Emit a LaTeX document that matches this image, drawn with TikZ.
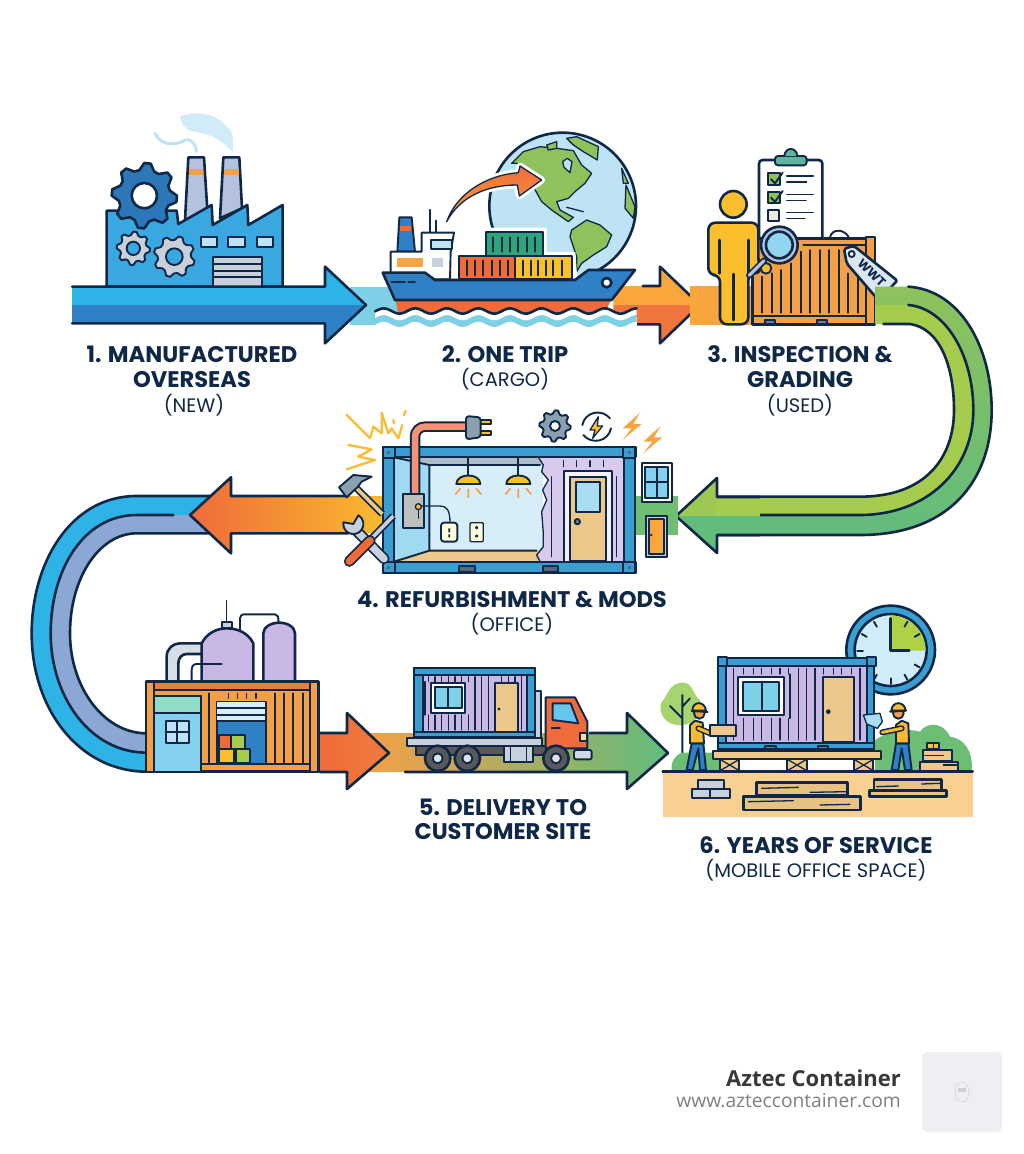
\documentclass[tikz,border=0pt]{standalone}
\usepackage{fontspec}
\newfontfamily\hd{Poppins}
\newfontfamily\ft{Open Sans}
\definecolor{navy}{HTML}{0F2847}
\definecolor{cy}{HTML}{2DB3E6}
\definecolor{bl}{HTML}{2F80C4}
\definecolor{lcy}{HTML}{7ED0E6}
\definecolor{lav}{HTML}{C9B8E6}
\definecolor{lavb}{HTML}{B4C2E0}
\definecolor{tan}{HTML}{ECC98A}
\definecolor{sand}{HTML}{F8D192}
\definecolor{org}{HTML}{F4A047}
\definecolor{lorg}{HTML}{F9A63B}
\definecolor{red}{HTML}{EF6B3A}
\definecolor{yel}{HTML}{FBBF2E}
\definecolor{grn}{HTML}{8FC25C}
\definecolor{ygrn}{HTML}{A6CC4E}
\definecolor{tgrn}{HTML}{62BC7C}
\definecolor{gry}{HTML}{C8D0DC}
\definecolor{sky}{HTML}{BDE3F5}
\definecolor{fac}{HTML}{3AA8E0}
\definecolor{wall}{HTML}{3A9FD0}
\definecolor{per}{HTML}{8BA8D4}
\definecolor{leaf}{HTML}{A8D46F}
\definecolor{teal2}{HTML}{2FA37C}
\definecolor{teal3}{HTML}{5FB59A}
\definecolor{mint}{HTML}{8FDCC8}
\definecolor{steel}{HTML}{8A9FB0}
\definecolor{logo}{HTML}{EEEEF3}
\tikzset{
 zm/.style 2 args={shift={(#1,#2)},x=0.33333pt,y=-0.33333pt},
 ol/.style={draw=navy,line width=2.6pt,line join=round,line cap=round},
 om/.style={draw=navy,line width=1.9pt,line join=round,line cap=round},
 ot/.style={draw=navy,line width=1.3pt,line join=round,line cap=round},
 title/.style={font=\hd\bfseries\fontsize{22.6}{24}\selectfont,text=navy,inner sep=0pt},
 sub/.style={font=\hd\fontsize{19.5}{22}\selectfont,text=navy,inner sep=0pt},
}
\newcommand\gearshape[7]{% x y R r n style phase
 \pgfmathsetmacro\gstep{90/#5}\pgfmathtruncatemacro\gsamp{4*#5+1}
 \path[#6] plot[domain=0:360,samples=\gsamp] ({#1+ifthenelse(mod(round(\x/\gstep),4)<2,#3,#4)*cos(\x+#7)},{#2+ifthenelse(mod(round(\x/\gstep),4)<2,#3,#4)*sin(\x+#7)}) -- cycle;}
\begin{document}
\begin{tikzpicture}[x=1pt,y=-1pt]
\useasboundingbox (0,0) rectangle (1024,1154);
\fill[white] (0,0) rectangle (1024,1154);

%% ===== bands behind the icons
\fill[lcy] (350,287) rectangle (420,325);
\fill[lorg] (690,287) rectangle (760,325);

%% ===== arrow 1 + factory (zoom 60,130)
\begin{scope}[zm={60}{130}]
 % smoke
 \draw[line width=3pt,color=sky,line cap=round] (285,10) .. controls (300,45) and (345,50) .. (375,30) .. controls (395,25) and (408,45) .. (410,65);
 \fill[sky!70!white] (360,-40) .. controls (400,-60) and (470,-50) .. (500,-10) .. controls (525,10) and (520,40) .. (518,65) .. controls (490,40) and (470,20) .. (430,10) .. controls (400,5) and (370,5) .. (360,-40);
 % chimneys
 \path[ol,fill=lavb] (385,82) -- (432,82) -- (442,240) -- (375,270) -- cycle;
 \fill[org] (387,118) rectangle (430,136);
 \path[ol,fill=lavb] (490,82) -- (538,82) -- (546,235) -- (480,265) -- cycle;
 \fill[org] (492,118) rectangle (536,136);
 % body
 \path[ol,fill=fac] (140,470) -- (140,242) -- (350,242) -- (355,282) -- (455,225) -- (458,285) -- (562,225) -- (565,285) -- (668,225) -- (668,470) -- cycle;
 % gears
 \gearshape{253}{197}{98}{78}{8}{ol,fill=bl!90!navy}{0}
 \path[ol,fill=white] (253,197) circle[radius=38];
 \gearshape{220}{355}{50}{40}{8}{om,fill=gry}{0}
 \path[om,fill=fac] (220,355) circle[radius=20];
 \gearshape{343}{380}{62}{50}{8}{om,fill=gry}{12}
 \path[om,fill=fac] (343,380) circle[radius=25];
 % windows
 \foreach \q in {422,505,590} \path[om,fill=sky] (\q,320) rectangle ++(50,31);
 % door
 \path[om,fill=gry] (460,382) rectangle (605,470);
 \foreach \q in {402,422,442} \draw[om] (460,\q) -- (605,\q);
 % arrow
 \fill[cy] (36,470) -- (795,470) -- (795,410) -- (918,525) -- (36,525) -- cycle;
 \fill[bl] (36,525) -- (918,525) -- (795,640) -- (795,580) -- (36,580) -- cycle;
 \draw[ol] (36,470) -- (795,470) -- (795,410) -- (918,525) -- (795,640) -- (795,580) -- (36,580);
\end{scope}

%% ===== ship & globe (zoom 360,130)
\begin{scope}[zm={360}{130}]
 % orange arrow 2
 \fill[lorg] (760,468) -- (900,468) -- (900,410) -- (1020,525) -- (760,525) -- cycle;
 \fill[red!80!org] (760,525) -- (1020,525) -- (900,640) -- (900,583) -- (760,583) -- cycle;
 \draw[ol] (848,468) -- (900,468) -- (900,410) -- (1020,525) -- (900,640) -- (900,583) -- (830,583);
 % globe
 \path[ol,fill=sky] (608,228) circle[radius=220];
 \path[ot,fill=grn] (455,100) -- (490,65) -- (540,50) -- (590,55) -- (640,62) -- (665,105) -- (695,130) -- (675,160) -- (645,185) -- (625,205) -- (590,215) -- (600,240) -- (640,262) -- (625,275) -- (575,240) -- (545,215) -- (520,170) -- (500,120) -- (470,100) -- cycle;
 \path[ot,fill=sky] (608,95) -- (622,85) -- (636,95) -- (630,128) -- (612,112) -- cycle;
 \path[ot,fill=grn] (635,300) -- (680,270) -- (720,285) -- (755,315) -- (740,350) -- (700,375) -- (665,400) -- (650,425) -- (650,380) -- (630,320) -- cycle;
 \path[ot,fill=grn] (620,25) -- (650,20) -- (715,50) -- (712,90) -- (670,65) -- (640,45) -- cycle;
 \path[ot,fill=grn] (560,45) -- (590,35) -- (590,55) -- (565,60) -- cycle;
 \path[ot,fill=grn] (798,165) -- (825,230) -- (820,265) -- (795,235) -- cycle;
 \path[ot,fill=grn] (785,115) -- (805,160) -- (790,160) -- cycle;
 \draw[ot] (620,232) -- (670,245);
 % curved arrow
 \path[draw=white,line width=7pt,line join=round] (260,275) .. controls (290,190) and (380,135) .. (475,128) -- (480,108) -- (545,150) -- (478,198) -- (472,165) .. controls (380,165) and (300,200) .. (260,275) -- cycle;
 \path[ot,left color=red,right color=lorg,shading angle=0] (260,275) .. controls (290,190) and (380,135) .. (475,128) -- (480,108) -- (545,150) -- (478,198) -- (472,165) .. controls (380,165) and (300,200) .. (260,275) -- cycle;
 % white halo of load
 \path[draw=white,fill=white,line width=8pt] (298,378) -- (378,378) -- (378,305) -- (548,305) -- (548,378) -- (635,378) -- (640,450) -- (298,450) -- cycle;
 % containers
 \path[om,fill=teal2] (378,305) rectangle (548,378);
 \foreach \q in {400,425,450,475,500,525} \draw[om] (\q,322) -- (\q,365);
 \path[om,fill=red] (298,378) rectangle (465,448);
 \foreach \q in {320,345,370,395,420,445} \draw[om] (\q,392) -- (\q,436);
 \path[om,fill=yel] (465,378) rectangle (635,448);
 \foreach \q in {490,512,535,558,580,605} \draw[om] (\q,392) -- (\q,436);
 % superstructure
 \draw[ol] (210,240) -- (210,308);
 \draw[om] (228,272) -- (228,308);
 \path[om,fill=bl] (118,262) -- (155,262) -- (165,365) -- (112,365) -- cycle;
 \fill[red] (120,288) rectangle (154,302);
 \path[om,fill=white] (185,308) -- (282,308) -- (272,365) -- (270,448) -- (92,448) -- (92,365) -- (185,365) -- cycle;
 \path[om,fill=sky] (212,330) rectangle (275,358);
 \fill[org!80!yel] (110,385) rectangle (190,412);
 \fill[gry] (215,385) rectangle (248,412);
 % hull
 \path[fill=red] (105,505) -- (755,505) -- (735,550) -- (115,550) -- cycle;
 \path[ol,fill=bl] (68,428) -- (195,428) -- (225,450) -- (645,450) -- (685,420) -- (825,420) -- (755,510) -- (105,510) -- cycle;
 \draw[om] (95,457) -- (135,457) (145,457) -- (165,457);
 \path[ol,fill=white] (740,458) circle[radius=14];
 % water
 \fill[white] (45,560) rectangle (830,600);
 \fill[lcy] plot[domain=45:830,samples=90] (\x,{560+8*sin(\x*3.8)}) -- plot[domain=830:45,samples=90] (\x,{583+8*sin(\x*3.8)}) -- cycle;
 \fill[white] plot[domain=45:830,samples=90] (\x,{543+8*sin(\x*3.8)}) -- plot[domain=830:45,samples=90] (\x,{563+8*sin(\x*3.8)}) -- cycle;
 \draw[ol] plot[domain=45:830,samples=90] (\x,{543+8*sin(\x*3.8)});
\end{scope}

%% ===== inspection (zoom 690,130)
\begin{scope}[zm={690}{130}]
 \fill[left color=lorg,right color=org] (0,468) rectangle (190,583);
 \path[ol,fill=white,rounded corners=3.5pt] (207,90) rectangle (397,330);
 \path[om,fill=teal3,rounded corners=3pt] (255,78) rectangle (350,106);
 \path[om,fill=teal3] (283,78) .. controls (285,50) and (320,50) .. (322,78);
 \path[om,fill=grn] (235,130) rectangle (270,165);
 \draw[om] (243,148) -- (255,160) -- (278,128);
 \path[om,fill=grn] (235,185) rectangle (270,220);
 \draw[om] (243,203) -- (255,215) -- (278,183);
 \path[om,fill=yellow!15!gray!20!white] (235,240) rectangle (268,273);
 \draw[ot] (290,138) -- (370,138) (290,156) -- (350,156) (290,193) -- (370,193) (290,211) -- (348,211) (290,247) -- (370,247) (290,265) -- (345,265);
 % container
 \draw[om] (420,322) .. controls (425,295) and (465,295) .. (478,325);
 \path[ol,fill=org] (188,325) rectangle (555,583);
 \foreach \q/\w in {215/440,245/430,272/420,302/400,332/365,360/360,389/360,417/360,446/360,475/430,503/440} \draw[om] (\q,\w) -- (\q,548);
 \draw[om] (340,345) -- (530,345) (190,557) -- (555,557);
 \path[om,fill=org] (528,322) rectangle (555,583);
 \path[om,fill=navy!60] (225,570) rectangle (255,583) (380,570) rectangle (410,583);
 % person
 \path[ol,fill=yel] (130,223) circle[radius=40];
 \path[ol,fill=yel,rounded corners=7pt] (55,278) -- (205,278) -- (205,400) -- (215,430) -- (175,430) -- (175,583) -- (90,583) -- (90,435) -- (55,435) -- cycle;
 \draw[ol] (88,330) -- (88,430) (175,330) -- (175,430) (130,432) -- (130,570);
 % hand + magnifier
 \path[om,fill=yel] (228,415) circle[radius=16];
 \draw[navy,line width=6.5pt,line cap=round] (222,392) -- (178,436);
 \draw[lavb,line width=3.2pt,line cap=round] (222,392) -- (178,436);
 \path[ol,fill=lavb] (268,345) circle[radius=55];
 \path[ol,fill=sky!70!cy] (268,345) circle[radius=40];
 % tag
 \path[ol,fill=sky!40!gry!60!white,rounded corners=2pt] (462,356) -- (492,348) -- (622,452) -- (565,510) -- (470,400) -- cycle;
 \path[om,fill=white] (485,372) circle[radius=9];
 \node[rotate=-44,font=\hd\bfseries\fontsize{12.5}{13}\selectfont,text=navy,inner sep=0pt] (tagtext) at (545,428) {WWT};
\end{scope}

%% ===== green U (zoom 860,270)
\begin{scope}[zm={860}{270}]
 \path[top color=grn,bottom color=tgrn] (45,50) -- (145,50) .. controls (300,60) and (395,230) .. (395,420) .. controls (395,630) and (270,795) .. (0,795) -- (-426,795) -- (-426,735) -- (0,735) .. controls (200,735) and (340,600) .. (340,420) .. controls (340,260) and (260,115) .. (145,105) -- (45,105) -- cycle;
 \fill[ygrn] (45,105) -- (145,105) .. controls (260,115) and (340,260) .. (340,420) .. controls (340,600) and (200,735) .. (0,735) -- (-426,735) -- (-426,680) -- (0,680) .. controls (200,680) and (282,560) .. (282,420) .. controls (282,290) and (240,175) .. (150,162) -- (45,162) -- cycle;
 \draw[ol] (145,50) .. controls (300,60) and (395,230) .. (395,420) .. controls (395,630) and (270,795) .. (0,795) -- (-426,795);
 \draw[ol] (145,105) .. controls (260,115) and (340,260) .. (340,420) .. controls (340,600) and (200,735) .. (0,735) -- (-426,735);
 \draw[ol] (70,162) -- (150,162) .. controls (240,175) and (282,290) .. (282,420) .. controls (282,560) and (200,680) .. (0,680) -- (-426,680);
\end{scope}
% arrow head 3 -> 4
\fill[tgrn!70!grn] (630,497) rectangle (678,535);
\begin{scope}
 \fill[ygrn!60!grn] (676,516) -- (717,478) -- (717,516) -- cycle;
 \fill[tgrn] (676,516) -- (717,553) -- (717,516) -- cycle;
 \fill[ygrn] (716,497) rectangle (760,516);
 \fill[tgrn] (716,516) rectangle (760,535);
 \draw[ol] (760,497) -- (717,497) -- (717,478) -- (676,516) -- (717,553) -- (717,535) -- (760,535);
\end{scope}

%% ===== blue C + orange arrow (zoom 20,470)
\begin{scope}[zm={20}{470}]
 \fill[cy] (570,78) -- (350,78) .. controls (150,78) and (35,280) .. (35,490) .. controls (35,720) and (180,905) .. (380,905) -- (380,848) .. controls (210,848) and (92,680) .. (92,490) .. controls (92,300) and (190,135) .. (350,135) -- (570,135) -- cycle;
 \fill[per] (570,135) -- (350,135) .. controls (190,135) and (92,300) .. (92,490) .. controls (92,680) and (210,848) .. (380,848) -- (380,790) .. controls (250,790) and (150,650) .. (150,490) .. controls (150,320) and (240,190) .. (350,190) -- (570,190) -- cycle;
 \draw[ol] (570,78) -- (350,78) .. controls (150,78) and (35,280) .. (35,490) .. controls (35,720) and (180,905) .. (380,905);
 \draw[ol] (460,135) -- (350,135) .. controls (190,135) and (92,300) .. (92,490) .. controls (92,680) and (210,848) .. (380,848);
 \draw[ol] (570,190) -- (350,190) .. controls (240,190) and (150,320) .. (150,490) .. controls (150,650) and (250,790) .. (380,790);
 \path[left color=red,right color=yel] (510,135) -- (633,22) -- (633,78) -- (1125,78) -- (1125,190) -- (633,190) -- (633,250) -- cycle;
 \draw[ol] (985,78) -- (633,78) -- (633,22) -- (510,135) -- (633,250) -- (633,190) -- (985,190);
\end{scope}

%% ===== arrow 5/6 band, behind the truck
\path[left color=org,middle color=org!40!ygrn,right color=tgrn] (368,733) -- (627,733) -- (627,713) -- (668,753) -- (627,789) -- (627,772) -- (368,772) -- cycle;
\draw[ol] (590,733) -- (627,733) -- (627,713) -- (668,753) -- (627,789) -- (627,772) -- (405,772);
\path[left color=red,right color=red!70!org] (320,733) -- (347,733) -- (347,713) -- (389,753) -- (347,789) -- (347,772) -- (320,772) -- cycle;
\draw[ol] (320,733) -- (347,733) -- (347,713) -- (389,753) -- (347,789) -- (347,772) -- (320,772);

%% ===== refinery container (zoom 20,470)
\begin{scope}[zm={20}{470}]
 \path[ol,fill=gry!70!white] (440,640) -- (440,560) .. controls (440,535) and (460,520) .. (480,520) -- (548,520) -- (548,552) -- (500,552) .. controls (485,552) and (475,565) .. (475,580) -- (475,640) -- cycle;
 \draw[om] (515,640) -- (515,600) .. controls (515,590) and (520,582) .. (530,582) -- (605,582);
 \draw[ot] (620,392) -- (620,455);
 \draw[om] (660,480) -- (660,445) .. controls (660,437) and (665,433) .. (675,433) -- (765,433) .. controls (772,433) and (777,440) .. (775,458);
 \path[om,fill=gry] (605,455) rectangle (635,475);
 \path[ol,fill=lav] (545,640) -- (545,520) .. controls (560,490) and (590,475) .. (620,475) .. controls (655,475) and (685,490) .. (700,520) -- (700,640) -- cycle;
 \draw[om] (545,582) -- (605,582);
 \path[ol,fill=lav] (730,640) -- (730,490) .. controls (730,470) and (755,458) .. (778,458) .. controls (800,458) and (825,470) .. (825,490) -- (825,640) -- cycle;
 \path[ol,fill=org] (378,635) rectangle (895,905);
 \path[om,fill=red!70!org] (378,635) rectangle (895,660);
 \path[om,fill=org] (378,635) rectangle (403,905);
 \path[om,fill=org] (870,635) rectangle (895,905);
 \foreach \q in {568,765,793,820,850} \draw[om] (\q,670) -- (\q,880);
 \foreach \q in {625,653,680,708} \draw[ot] (\q,670) -- (\q,685);
 \path[om,fill=sky!60!cy] (403,678) rectangle (543,905);
 \path[om,fill=mint] (403,678) rectangle (543,728);
 \path[om,fill=sky] (437,752) rectangle (508,818);
 \draw[om] (472,752) -- (472,818) (437,785) -- (508,785);
 \path[om,fill=bl] (590,695) rectangle (738,882);
 \path[fill=sky!60!white] (592,697) rectangle (736,752);
 \draw[om] (590,715) -- (738,715) (590,735) -- (738,735) (590,752) -- (738,752);
 \path[om,fill=red] (597,795) rectangle (633,838);
 \path[om,fill=ygrn] (633,795) rectangle (675,838);
 \path[om,fill=yel] (597,838) rectangle (643,880);
 \path[om,fill=ygrn] (647,838) rectangle (690,880);
 \draw[om] (543,882) -- (870,882);
\end{scope}

%% ===== workshop (zoom 320,400)
\begin{scope}[zm={320}{400}]
 \fill[tgrn!70!grn] (945,288) rectangle (1075,405);
 % interior
 \path[fill=sky!80!cy] (222,172) -- (328,195) -- (328,452) -- (222,485) -- cycle;
 \path[fill=sky!60!white] (328,195) rectangle (670,452);
 \path[fill=steel!70!white] (222,172) -- (655,172) -- (672,195) -- (328,195) -- cycle;
 \path[fill=tan] (222,485) -- (328,452) -- (655,452) -- (655,485) -- cycle;
 \draw[om] (222,172) -- (328,195) -- (660,195) (328,195) -- (328,452) -- (650,452) (328,452) -- (222,485);
 % exterior wall
 \path[fill=lav!75!white] (655,172) -- (670,195) -- (665,215) -- (685,240) -- (668,270) -- (680,300) -- (665,335) -- (670,400) -- (670,440) -- (650,465) -- (660,485) -- (913,485) -- (913,172) -- cycle;
 \draw[ot] (655,172) -- (670,195) -- (665,215) -- (685,240) -- (668,270) -- (680,300) -- (665,335) -- (670,400) -- (670,440) -- (650,465) -- (660,485);
 \foreach \q in {730,770,810,850} \draw[ot] (\q,182) -- (\q,200);
 \foreach \q in {695,890} \draw[ot] (\q,230) -- (\q,470);
 % door
 \path[om,fill=lav!20!white] (733,212) rectangle (875,485);
 \path[om,fill=tan] (750,230) rectangle (858,483);
 \path[om,fill=sky!70!cy!80!white] (768,247) rectangle (840,335);
 \path[om,fill=gray] (772,365) circle[radius=8];
 % frame
 \path[om,fill=wall] (188,172) rectangle (222,490);
 \path[om,fill=wall] (913,172) rectangle (945,490);
 \path[om,fill=wall] (188,140) rectangle (948,172);
 \path[om,fill=wall] (188,485) rectangle (948,518);
 \path[om,fill=navy!70] (418,498) rectangle (465,515) (668,498) rectangle (715,515);
 \foreach \p/\q in {188/140,910/140,188/485,910/485} {\path[om,fill=wall] (\p,\q) rectangle ++(36,33); \fill[navy!70] (\p+13,\q+12) rectangle ++(10,9);}
 % lamps
 \foreach \q in {445,595}{
  \draw[om] (\q,172) -- (\q,225);
  \path[om,fill=yel] (\q-36,252) .. controls (\q-36,218) and (\q+36,218) .. (\q+36,252) -- cycle;
  \draw[line width=1.7pt,color=org,line cap=round] (\q,268) -- (\q,292) (\q-24,266) -- (\q-38,282) (\q+24,266) -- (\q+38,282);
 }
 % cable + plug
 \draw[navy,line width=10.5pt,line cap=butt,rounded corners=10pt] (285,282) -- (285,80) -- (440,80);
 \draw[red!55!pink,line width=6.5pt,line cap=butt,rounded corners=10pt] (285,282) -- (285,80) -- (442,80);
 \draw[om,fill=yel] (478,60) rectangle (512,72) (478,94) rectangle (512,106);
 \path[om,fill=steel,rounded corners=3pt] (438,48) -- (482,52) -- (482,112) -- (438,118) -- cycle;
 % junction box + outlets
 \path[om,fill=gray!50!white] (250,282) rectangle (312,385);
 \draw[ot] (295,318) -- (360,318) .. controls (380,318) and (390,330) .. (390,368);
 \path[ot,fill=yel] (295,320) circle[radius=9];
 \draw[ot] (295,328) -- (295,355);
 \path[om,fill=yellow!15!white,rounded corners=3pt] (363,368) rectangle (412,425);
 \path[ot,fill=yellow!15!white,rounded corners=1pt] (450,368) rectangle (490,425);
 \fill[navy] (385,385) rectangle (390,397) (385,403) rectangle (390,412);
 \path[ot,fill=navy] (470,383) circle[radius=3] (470,408) circle[radius=3];
 % sparks
 \draw[line width=2.3pt,color=yel!90!org,line join=round,line cap=round] (80,45) -- (150,115) -- (160,80) -- (185,100) -- (185,38) -- (205,100) -- (215,85) -- (235,115) -- (247,75) (252,45) -- (257,32) (85,135) -- (155,148) -- (115,170) -- (165,180) -- (80,208) (220,60) -- (222,70);
 % hammer
 \draw[navy,line width=7pt] (110,265) -- (187,342);
 \draw[tan,line width=3.6pt] (110,265) -- (187,342);
 \path[om,fill=steel] (57,262) -- (100,225) -- (155,230) -- (125,245) -- (112,262) -- (80,292) -- cycle;
 % wrench + driver
 \draw[navy,line width=11pt,line cap=round] (112,395) -- (192,476);
 \draw[gry,line width=7.5pt,line cap=round] (112,395) -- (192,476);
 \path[om,fill=gry] plot[domain=-60:190,samples=24] ({100+30*cos(\x)},{372+30*sin(\x)}) -- (100,372) -- cycle;
 \draw[navy,line width=7pt] (220,348) -- (148,422);
 \draw[gry,line width=3.6pt] (220,348) -- (148,422);
 \draw[navy,line width=11pt,line cap=round] (150,422) -- (88,484);
 \draw[red,line width=7.5pt,line cap=round] (150,422) -- (88,484);
 % icons
 \gearshape{705}{78}{47}{37}{8}{om,fill=steel}{0}
 \path[om,fill=white] (705,78) circle[radius=15];
 \draw[om] (870,55) .. controls (845,25) and (795,35) .. (787,75);
 \draw[om] (790,105) .. controls (815,135) and (865,125) .. (873,85);
 \path[ot,fill=yel] (835,50) -- (810,90) -- (825,90) -- (818,115) -- (848,78) -- (832,78) -- cycle;
 \foreach \a/\b in {0/0,62/40} \path[fill=org!80!yel,shift={(\a*0.333pt,-\b*0.333pt)}] (960,38) -- (908,85) -- (935,85) -- (908,120) -- (965,72) -- (940,72) -- cycle;
 % loose window and door
 \path[om,fill=white] (965,190) rectangle (1055,305);
 \path[om,fill=sky!60!cy] (975,202) rectangle (1045,295);
 \draw[om] (1010,202) -- (1010,295) (975,245) -- (1045,245);
 \path[om,fill=gry] (978,348) rectangle (1042,472);
 \path[om,fill=lorg] (988,358) rectangle (1032,462);
 \fill[navy] (994,405) circle[radius=4];
\end{scope}

%% ===== truck (zoom 400,640)
\begin{scope}[zm={400}{640}]
 \path[om,fill=gry] (405,152) rectangle (422,295);
 \path[fill=lav] (65,105) rectangle (380,275);
 \foreach \q in {85,105,125,145,165,185,205,225,245,265,305,325,345,365} \draw[ot] (\q,110) -- (\q,125) (\q,225) -- (\q,270);
 \foreach \q in {75,225,245,265,365} \draw[ot] (\q,125) -- (\q,225);
 \path[om,fill=white] (92,130) rectangle (195,218);
 \path[om,fill=lcy] (105,142) rectangle (185,205);
 \draw[om] (145,142) -- (145,205);
 \path[om,fill=tan] (285,130) rectangle (355,275);
 \fill[navy] (297,207) circle[radius=5];
 \path[om,fill=wall] (42,85) rectangle (68,295);
 \path[om,fill=wall] (380,85) rectangle (405,295);
 \path[om,fill=wall] (42,85) rectangle (405,105);
 \path[om,fill=wall] (42,275) rectangle (405,292);
 \path[om,fill=gray!70!black] (48,317) rectangle (440,345);
 \path[om,fill=gry] (20,295) rectangle (425,317);
 \path[om,fill=red] (437,172) -- (525,172) -- (562,245) -- (562,325) -- (437,325) -- cycle;
 \path[om,fill=sky!40!cy] (458,190) -- (512,190) -- (535,250) -- (458,240) -- cycle;
 \draw[om] (455,265) -- (480,265);
 \path[om,fill=yel!50!white] (540,280) rectangle (560,302);
 \path[om,fill=gry] (312,318) rectangle (400,365);
 \draw[ot] (332,320) -- (332,363) (380,320) -- (380,363);
 \path[om,fill=gry!80!white,rounded corners=2pt] (522,330) rectangle (575,358);
 \foreach \q in {113,202,468}{\path[ol,fill=gray!70!black] (\q,355) circle[radius=38]; \path[om,fill=gry!60!white] (\q,355) circle[radius=15];}
\end{scope}

%% ===== site (zoom 650,600)
\begin{scope}[zm={650}{600}]
 % clock
 \path[ol,fill=wall] (722,150) circle[radius=133];
 \path[ol,fill=sky!70!white] (722,150) circle[radius=108];
 \fill[ygrn!90!yellow] (722,152) -- plot[domain=-90:0,samples=24] ({722+105*cos(\x)},{152+105*sin(\x)}) -- cycle;
 \foreach \a in {-120,-150,-180,120,150,90,60,30,-60,-30} \draw[om] ({722+83*cos(\a)},{152+83*sin(\a)}) -- ({722+100*cos(\a)},{152+100*sin(\a)});
 \draw[ol] (722,55) -- (722,152) -- (778,152);
 % vegetation
 \fill[leaf] (95,248) .. controls (130,245) and (130,290) .. (150,300) .. controls (165,340) and (130,375) .. (95,375) .. controls (50,380) and (20,340) .. (35,305) .. controls (50,295) and (55,250) .. (95,248) -- cycle;
 \draw[om] (97,285) -- (97,460) (60,318) -- (97,355) (120,295) -- (97,320);
 \fill[tgrn!85!ygrn] (65,512) .. controls (60,480) and (85,455) .. (105,458) -- (210,458) -- (210,512) -- cycle;
 \fill[tgrn!85!ygrn] (675,512) -- (675,420) .. controls (720,390) and (780,385) .. (810,395) .. controls (830,365) and (880,365) .. (900,410) .. controls (940,415) and (970,450) .. (965,512) -- cycle;
 % ground
 \fill[sand] (38,515) rectangle (968,652);
 % building
 \path[fill=lav] (228,198) rectangle (650,428);
 \foreach \q in {250,280,310,335,365,390,415,445,470,495,520,550,575,605,630} \draw[ot] (\q,205) -- (\q,222) (\q,355) -- (\q,420);
 \foreach \q in {250,420,445,470,495,630} \draw[ot] (\q,222) -- (\q,355);
 \path[om,fill=white] (265,232) rectangle (403,345);
 \path[om,fill=lcy] (280,245) rectangle (388,332);
 \draw[om] (335,245) -- (335,332);
 \path[om,fill=tan] (518,232) rectangle (612,425);
 \fill[navy] (535,335) circle[radius=7];
 \path[om,fill=wall] (205,175) rectangle (228,450);
 \path[om,fill=wall] (650,175) rectangle (672,450);
 \path[om,fill=wall] (205,175) rectangle (675,198);
 \path[om,fill=wall] (205,428) rectangle (672,448);
 \path[om,fill=wall] (205,172) rectangle (232,198);
 \path[om,fill=wall] (650,172) rectangle (677,198);
 \path[om,fill=navy!60] (345,437) rectangle (378,448) (503,437) rectangle (535,448);
 % platform
 \path[om,fill=tan] (188,452) rectangle (692,478);
 \foreach \q in {210,412,612} {\path[om,fill=tan] (\q,478) rectangle ++(58,34); \draw[ot] (\q,478) -- ++(58,34) (\q+58,478) -- ++(-58,34);}
 \draw[ol] (38,515) -- (968,515);
 % left worker
 \path[om,fill=bl] (125,430) -- (110,510) -- (128,510) -- (145,445) -- (150,510) -- (168,510) -- (160,430) -- cycle;
 \path[om,fill=yel!80!org] (120,430) -- (120,375) -- (135,362) -- (158,368) -- (162,430) -- cycle;
 \draw[navy,line width=6pt,line cap=round] (145,385) -- (188,403);
 \draw[yel!80!org,line width=3pt,line cap=round] (145,385) -- (188,403);
 \path[om,fill=org] (148,340) circle[radius=16];
 \path[om,fill=yel] (127,332) .. controls (127,302) and (165,302) .. (168,332) -- cycle;
 \draw[om] (125,333) -- (173,336);
 \path[om,fill=tan] (180,375) rectangle (258,408);
 % right worker
 \path[om,fill=bl] (738,430) -- (725,510) -- (745,510) -- (755,445) -- (765,510) -- (785,510) -- (775,430) -- cycle;
 \path[om,fill=yel!80!org] (738,430) -- (738,375) -- (755,362) -- (775,370) -- (777,430) -- cycle;
 \draw[navy,line width=6pt,line cap=round] (755,385) -- (697,397);
 \draw[yel!80!org,line width=3pt,line cap=round] (755,385) -- (697,397);
 \path[om,fill=org] (745,340) circle[radius=16];
 \path[om,fill=yel] (724,332) .. controls (726,302) and (764,302) .. (767,332) -- cycle;
 \draw[om] (720,335) -- (768,332);
 \path[ot,fill=sky!60!cy!70!white] (640,345) -- (690,340) -- (697,365) -- (682,385) -- (650,372) -- cycle;
 % stacks
 \path[om,fill=tan] (810,485) rectangle (925,512);
 \path[om,fill=tan] (820,450) rectangle (905,482);
 \path[om,fill=yel] (830,428) rectangle (868,448);
 \draw[ot] (850,428) -- (850,448) (825,467) -- (880,467) (880,495) -- (920,495);
 % bricks
 \path[om,fill=gry] (145,540) rectangle (222,566);
 \path[om,fill=gry] (125,568) rectangle (180,595);
 \path[om,fill=gry] (180,568) rectangle (240,595);
 % planks
 \path[ol,fill=tan!90!brown] (320,548) rectangle (592,587);
 \path[ol,fill=tan!90!brown] (280,590) rectangle (632,630);
 \path[ol,fill=tan!90!brown] (672,538) rectangle (875,570);
 \path[ol,fill=tan!90!brown] (658,572) rectangle (890,590);
 \draw[ot] (335,565) -- (445,562) (480,577) -- (590,575) (295,605) -- (430,602) (510,615) -- (600,613) (680,560) -- (745,558) (815,552) -- (870,550);
\end{scope}

%% ===== labels
\node[title] (a1) at (192,354) {1. MANUFACTURED};
\node[title] (a2) at (192,380) {OVERSEAS};
\node[sub]   (a3) at (194,405) {(NEW)};
\node[title] (b1) at (505,354) {2. ONE TRIP};
\node[sub]   (b2) at (505,379) {(CARGO)};
\node[title] (c1) at (800,354) {3. INSPECTION \&};
\node[title] (c2) at (800,380) {GRADING};
\node[sub]   (c3) at (800,405) {(USED)};
\node[title] (d1) at (512,599) {4. REFURBISHMENT \& MODS};
\node[sub]   (d2) at (512,624) {(OFFICE)};
\node[title] (e1) at (503,807) {5. DELIVERY TO};
\node[title] (e2) at (503,832) {CUSTOMER SITE};
\node[title] (f1) at (816,845) {6. YEARS OF SERVICE};
\node[sub]   (f2) at (816,870) {(MOBILE OFFICE SPACE)};

%% ===== footer
\node[anchor=east,inner sep=0pt,font=\ft\bfseries\fontsize{22}{24}\selectfont,text=black!78] (g1) at (901,1078) {Aztec Container};
\node[anchor=east,inner sep=0pt,font=\ft\fontsize{19.2}{20}\selectfont,text=black!50] (g2) at (901,1101) {www.azteccontainer.com};
\fill[logo,rounded corners=5pt] (922,1052) rectangle (1002,1132);
\draw[black!15,line width=0.8pt] (962,1092) ellipse[x radius=7,y radius=10];
\fill[black!18] (958,1088) rectangle (966,1092);
\end{tikzpicture}
\end{document}
